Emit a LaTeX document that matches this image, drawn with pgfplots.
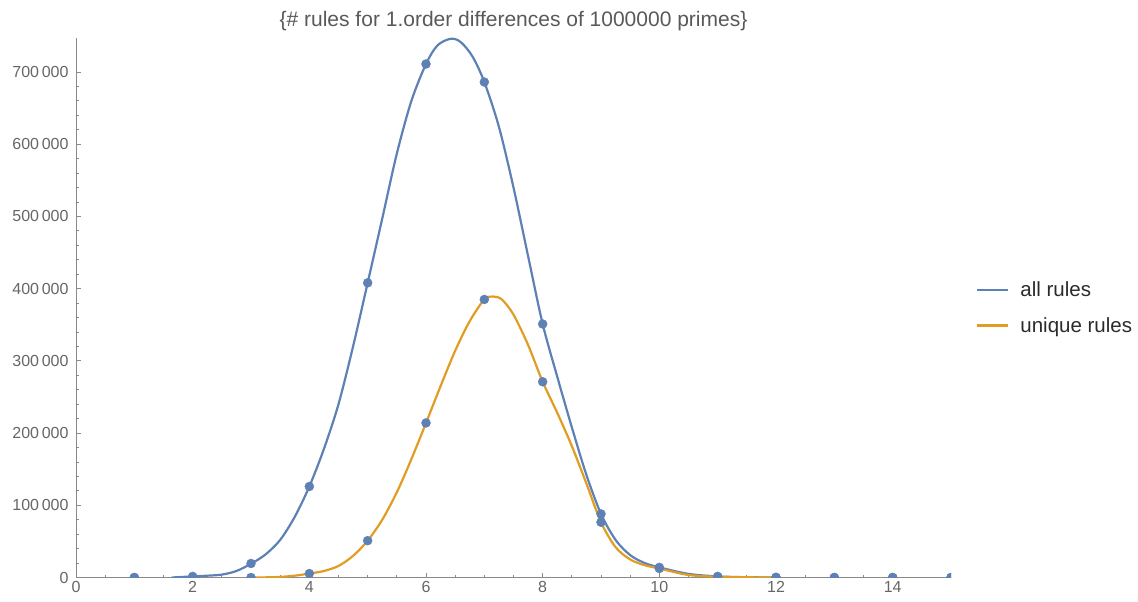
\documentclass[border=0pt]{standalone}
\usepackage{fontspec}
\setmainfont{Liberation Sans}
\usepackage{pgfplots}
\pgfplotsset{compat=1.18}
\definecolor{mblue}{HTML}{5E81B5}
\definecolor{morange}{HTML}{E19C24}
\definecolor{axgray}{HTML}{8A8A8A}
\definecolor{lblgray}{HTML}{666666}
\definecolor{titlegray}{HTML}{595959}
\definecolor{legtext}{HTML}{2B2B2B}
\begin{document}
\begin{tikzpicture}
\useasboundingbox (-76bp,-24.5bp) rectangle (1062bp,577.5bp);
\begin{axis}[
  at={(0,0)}, anchor=south west,
  scale only axis, width=875bp, height=539.5bp,
  xmin=0, xmax=15, ymin=0, ymax=747000,
  axis lines=left,
  axis line style={-, axgray, line width=0.9bp},
  tick align=inside,
  tick style={axgray, line width=0.8bp},
  major tick length=5bp, minor tick length=3bp,
  xtick={0,2,...,14}, minor x tick num=3,
  ytick={0,100000,...,700000}, minor y tick num=4,
  scaled y ticks=false,
  /pgf/number format/assume math mode=true,
  yticklabel style={/pgf/number format/fixed, /pgf/number format/1000 sep={\,}, font=\fontsize{16bp}{18bp}\selectfont, text=lblgray, xshift=-4bp},
  xticklabel style={font=\fontsize{16bp}{18bp}\selectfont, text=lblgray},
  title={\{\# rules for 1.order differences of 1000000 primes\}},
  title style={font=\fontsize{21bp}{24bp}\selectfont, text=titlegray, anchor=base, at={(0.5,1)}, yshift=6bp},
  legend style={draw=none, fill=none, at={(1,0.5)}, anchor=west, xshift=25bp, inner sep=0pt,
    font=\fontsize{20.5bp}{24bp}\selectfont, text=legtext, row sep=15bp,
    nodes={inner sep=2bp}},
  legend cell align=left,
  legend image code/.code={\draw[#1, line width=2.2bp] (0bp,0bp) -- (31bp,0bp);},
  /tikz/every odd column/.append style={column sep=9bp},
  clip=true,
  clip mode=individual,
  clip marker paths=true,
]
% smooth curves
\addplot[mblue, line width=2.2bp, smooth, tension=0.5] coordinates {
(1.64,0) (2.0,1500) (2.25,2500) (2.5,4000) (2.75,9000) (3.0,19000) (3.25,32000) (3.5,52000) (3.75,84000) (4.0,126000) (4.25,178000) (4.5,240000) (4.75,320000) (5.0,408000) (5.25,497000) (5.5,587000) (5.75,660000) (6.0,711000) (6.2,737000) (6.43,746000) (6.6,741000) (6.8,721000) (7.0,686000) (7.25,624000) (7.5,540000) (7.75,445000) (8.0,351000) (8.25,278000) (8.5,208000) (8.75,142000) (9.0,88000) (9.25,52000) (9.5,31000) (9.75,20000) (10.0,14000) (10.5,5000) (11.0,1500) (11.5,400) (12.0,0)
};
\addlegendentry{all rules}
\addplot[morange, line width=2.2bp, smooth, tension=0.5] coordinates {
(3.0,0) (3.25,200) (3.5,800) (3.75,2500) (4.0,5500) (4.25,9000) (4.5,16000) (4.75,30000) (5.0,51000) (5.25,80000) (5.5,118000) (5.75,164000) (6.0,214000) (6.25,265000) (6.5,314000) (6.75,355000) (7.0,385000) (7.15,389000) (7.3,385000) (7.5,364000) (7.75,322000) (8.0,271000) (8.25,228000) (8.5,182000) (8.75,130000) (9.0,76500) (9.25,42000) (9.5,25000) (9.75,17000) (10.0,12500) (10.5,3500) (11.0,1000) (11.5,300) (12.0,0)
};
\addlegendentry{unique rules}
% data points
\addplot[only marks, mark=*, mark size=4.5bp, mblue, forget plot] coordinates {
(1,0) (2,1500) (3,19400) (4,126000) (5,408000) (6,711000) (7,686000) (8,351000) (9,88000) (10,14000) (11,1500) (12,200) (13,0) (14,0) (15,0)
};
\addplot[only marks, mark=*, mark size=4.5bp, mblue, forget plot] coordinates {
(1,0) (2,0) (3,0) (4,5500) (5,51000) (6,214000) (7,385000) (8,271000) (9,76500) (10,12500) (11,1000) (12,0) (13,0) (14,0) (15,0)
};
\end{axis}
\end{tikzpicture}
\end{document}
